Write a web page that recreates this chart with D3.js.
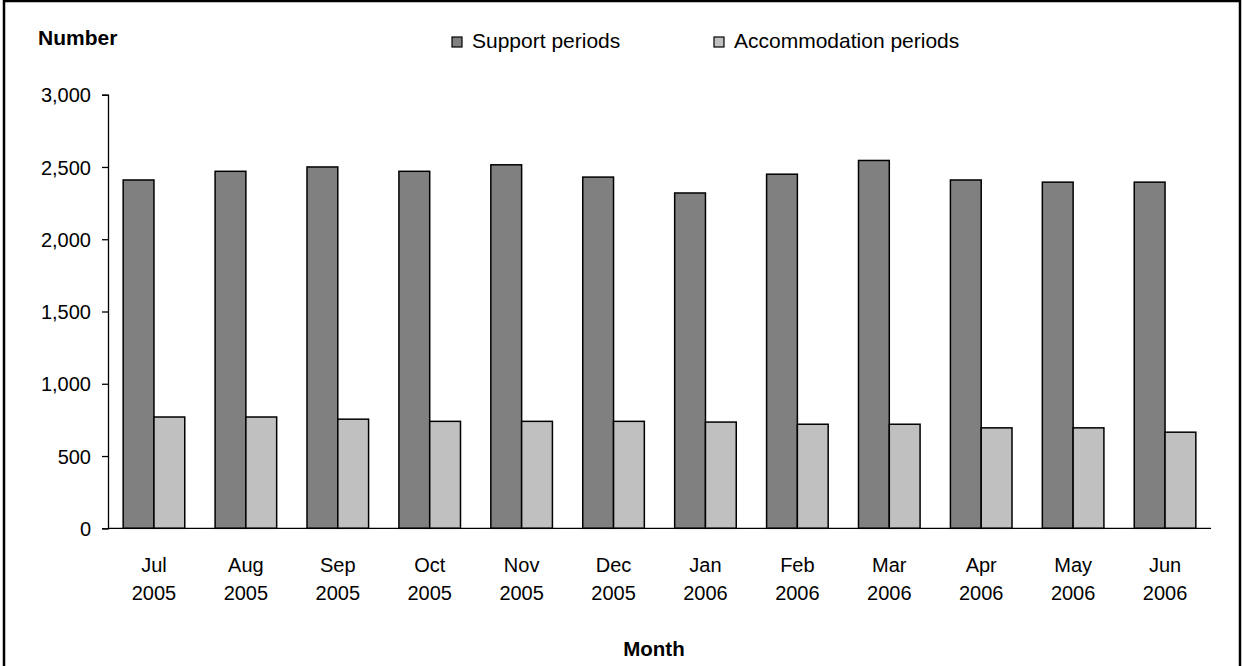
<!DOCTYPE html>
<html>
<head>
<meta charset="utf-8">
<script src="https://cdn.jsdelivr.net/npm/d3@7"></script>
<style>
  body { margin: 0; background: #fff; }
  text { font-family: "Liberation Sans", Arial, sans-serif; fill: #000; }
</style>
</head>
<body>
<svg id="chart" width="1242" height="666"></svg>
<script>
// Monthly support / accommodation periods -- bar chart

var months = ["Jul", "Aug", "Sep", "Oct", "Nov", "Dec", "Jan", "Feb", "Mar", "Apr", "May", "Jun"];
var years = ["2005", "2005", "2005", "2005", "2005", "2005", "2006", "2006", "2006", "2006", "2006", "2006"];
var support = [2410, 2470, 2500, 2470, 2515, 2430, 2320, 2450, 2545, 2410, 2395, 2395];
var accommodation = [770, 770, 755, 740, 740, 740, 735, 720, 720, 695, 695, 665];
var yTicks = [0, 500, 1000, 1500, 2000, 2500, 3000];
var seriesNames = ["Support periods", "Accommodation periods"];
var seriesColours = ["#808080", "#c0c0c0"];

var svg = d3.select("#chart");

// frame round the whole chart
svg.append("rect")
  .attr("x", 4).attr("y", 1)
  .attr("width", 1236).attr("height", 700)
  .attr("fill", "none").attr("stroke", "#000").attr("stroke-width", 2.5);

var plotLeft = 108, plotRight = 1211, plotTop = 94.7, plotBottom = 528.3;

var x = d3.scaleBand()
  .domain(d3.range(months.length))
  .range([plotLeft, plotRight])
  .paddingInner(0.33)
  .paddingOuter(0.165);

var xSub = d3.scaleBand()
  .domain([0, 1])
  .range([0, x.bandwidth()]);

var y = d3.scaleLinear()
  .domain([0, 3000])
  .range([plotBottom, plotTop]);

// bars
var groups = svg.append("g").selectAll("g")
  .data(d3.range(months.length))
  .join("g")
  .attr("transform", function (i) { return "translate(" + x(i) + ",0)"; });

groups.selectAll("rect")
  .data(function (i) { return [support[i], accommodation[i]]; })
  .join("rect")
  .attr("x", function (d, j) { return xSub(j); })
  .attr("y", function (d) { return y(d); })
  .attr("width", xSub.bandwidth())
  .attr("height", function (d) { return y(0) - y(d); })
  .attr("fill", function (d, j) { return seriesColours[j]; })
  .attr("stroke", "#000")
  .attr("stroke-width", 1.5);

// y axis
var yAxis = svg.append("g")
  .attr("transform", "translate(" + plotLeft + ",0)")
  .call(d3.axisLeft(y).tickValues(yTicks).tickSize(6).tickPadding(11)
    .tickFormat(d3.format(",")));
yAxis.select(".domain").attr("stroke", "#000").attr("stroke-width", 1.3);
yAxis.selectAll(".tick line").attr("stroke", "#000").attr("stroke-width", 1.3);
yAxis.selectAll(".tick text")
  .style("font-size", "20px")
  .style("font-family", "'Liberation Sans', Arial, sans-serif")
  .attr("dy", "0.36em");

// x axis line
svg.append("line")
  .attr("x1", plotLeft).attr("x2", plotRight)
  .attr("y1", y(0)).attr("y2", y(0))
  .attr("stroke", "#000").attr("stroke-width", 1.3);

// month labels, two lines each
var labels = svg.append("g").selectAll("text")
  .data(d3.range(months.length))
  .join("text")
  .attr("text-anchor", "middle")
  .style("font-size", "20px")
  .attr("transform", function (i) { return "translate(" + (x(i) + x.bandwidth() / 2) + ",0)"; });
labels.append("tspan").attr("x", 0).attr("y", 572).text(function (i) { return months[i]; });
labels.append("tspan").attr("x", 0).attr("y", 600).text(function (i) { return years[i]; });

// axis titles
svg.append("text")
  .attr("x", 38).attr("y", 45)
  .style("font-size", "21px").style("font-weight", "bold")
  .text("Number");

svg.append("text")
  .attr("x", 654).attr("y", 656)
  .attr("text-anchor", "middle")
  .style("font-size", "20.5px").style("font-weight", "bold")
  .text("Month");

// legend
var legendX = [452, 714];
var legend = svg.append("g").selectAll("g")
  .data(seriesNames)
  .join("g")
  .attr("transform", function (d, i) { return "translate(" + legendX[i] + ",37)"; });
legend.append("rect")
  .attr("width", 10).attr("height", 10)
  .attr("fill", function (d, i) { return seriesColours[i]; })
  .attr("stroke", "#000").attr("stroke-width", 1.2);
legend.append("text")
  .attr("x", 20).attr("y", 11)
  .style("font-size", "21px")
  .text(function (d) { return d; });
</script>
</body>
</html>
